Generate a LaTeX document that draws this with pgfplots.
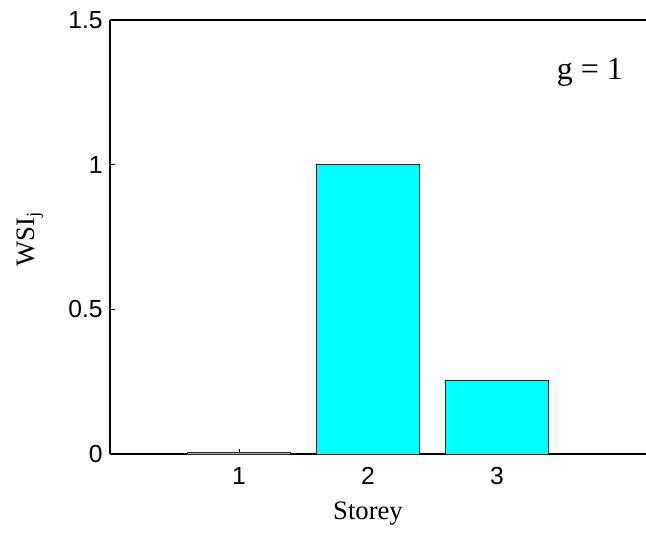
\documentclass[border=0pt]{standalone}
\usepackage{fontspec}
\setmainfont{Liberation Serif}
\newfontfamily\arialf{Liberation Sans}
\usepackage{pgfplots}
\pgfplotsset{compat=1.18}
\definecolor{barcyan}{RGB}{0,255,255}
\begin{document}
\begin{tikzpicture}
\begin{axis}[
  scale only axis,
  width=402pt, height=325.5pt,
  xmin=0, xmax=4.155,
  ymin=0, ymax=1.5,
  axis x line*=box, axis y line*=left,
  axis line style={line width=0.9pt, -},
  xtick={1,2,3}, xtick pos=left,
  ytick={0,0.5,1,1.5},
  yticklabels={0,0.5,1,1.5},
  tick align=inside,
  major tick length=3.5pt,
  tick style={line width=0.6pt, black},
  /pgf/number format/assume math mode=true,
  ticklabel style={font=\arialf\fontsize{18.5}{18.5}\selectfont},
  xticklabel style={yshift=-6.5pt},
  yticklabel style={xshift=-2pt},
  xlabel={Storey},
  ylabel={WSI\textsubscript{j}},
  label style={font=\fontsize{20}{20}\selectfont},
  xlabel style={at={(axis cs:2,0)}, anchor=center, yshift=-44.5pt},
  ylabel style={at={(axis description cs:-0.149,0.495)}, anchor=center},
  clip=false,
]
\addplot[ybar, bar width=0.8, fill=barcyan, draw=black!85, line width=0.6pt]
  coordinates {(1,0.006) (2,1.0) (3,0.253)};
\node[font=\fontsize{24}{24}\selectfont] at (axis cs:3.72,1.32) {g = 1};
\coordinate (sw) at (rel axis cs:0,0);
\coordinate (ne) at (rel axis cs:1,1);
\end{axis}
\pgfresetboundingbox
\path ([xshift=-82.5pt,yshift=-59.25pt]sw) rectangle ([yshift=15pt]ne);
\end{tikzpicture}
\end{document}
